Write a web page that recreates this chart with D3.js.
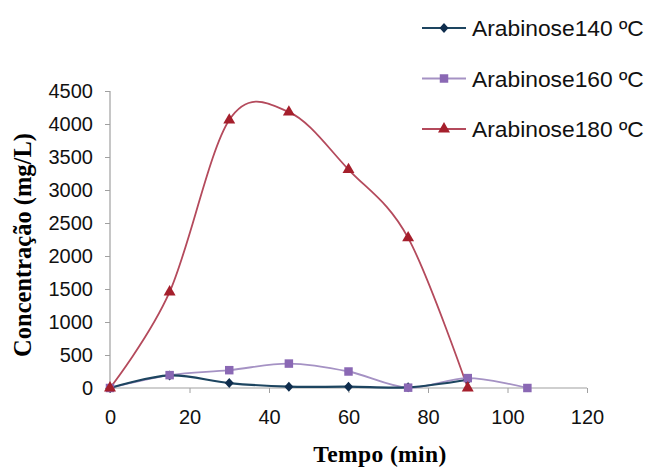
<!DOCTYPE html>
<html>
<head>
<meta charset="utf-8">
<script src="https://cdn.jsdelivr.net/npm/d3@7"></script>
<style>
  body { margin: 0; background: #fff; }
  svg { display: block; }
</style>
</head>
<body>
<div id="chart"></div>
<script>
// tempo (min) and concentração (mg/L)
var tempo140 = [0, 15, 30, 45, 60, 75, 90]
var arab140 = [0, 190, 75, 20, 20, 10, 125]
var tempo160 = [0, 15, 30, 45, 60, 75, 90, 105]
var arab160 = [0, 195, 270, 370, 250, 5, 150, 0]
var tempo180 = [0, 15, 30, 45, 60, 75, 90]
var arab180 = [0, 1455, 4060, 4180, 3310, 2275, 0]
var xTicks = [0, 20, 40, 60, 80, 100, 120]
var yTicks = [0, 500, 1000, 1500, 2000, 2500, 3000, 3500, 4000, 4500]
var seriesNames = ["Arabinose140 ºC", "Arabinose160 ºC", "Arabinose180 ºC"]

var width = 670, height = 469
var margin = {top: 91, right: 83, bottom: 81, left: 110}
var w = width - margin.left - margin.right,
    h = height - margin.top - margin.bottom

var svg = d3.select("#chart").append("svg")
    .attr("width", width)
    .attr("height", height)

var g = svg.append("g")
    .attr("transform", "translate(" + margin.left + "," + margin.top + ")")

var x = d3.scaleLinear().domain([0, 120]).range([0, w])
var y = d3.scaleLinear().domain([0, 4500]).range([h, 0])

// excel style diamond (square turned 45 deg)
var diamond = {
    draw: function(ctx, size) {
        var r = Math.sqrt(size) / 2 * 1.25
        ctx.moveTo(0, -r)
        ctx.lineTo(r * 0.9, 0)
        ctx.lineTo(0, r)
        ctx.lineTo(-r * 0.9, 0)
        ctx.closePath()
    }
}

var series = [
    {name: seriesNames[0], t: tempo140, v: arab140, line: "#1d4560", fill: "#0f2d4d", shape: diamond, size: 64},
    {name: seriesNames[1], t: tempo160, v: arab160, line: "#a592c4", fill: "#8a68b4", shape: d3.symbolSquare, size: 72},
    {name: seriesNames[2], t: tempo180, v: arab180, line: "#b44a5c", fill: "#a51f2c", shape: d3.symbolTriangle, size: 62}
]

// axes
var yAxis = g.append("g")
    .call(d3.axisLeft(y).tickValues(yTicks).tickSize(5).tickPadding(12).tickFormat(d3.format("d")))
var xAxis = g.append("g")
    .attr("transform", "translate(0," + h + ")")
    .call(d3.axisBottom(x).tickValues(xTicks).tickSize(5).tickPadding(17))

g.selectAll(".domain").attr("stroke", "#a0a0a0").attr("stroke-width", 1.2)
g.selectAll(".tick line").attr("stroke", "#a0a0a0")
g.selectAll(".tick text")
    .attr("font-family", "Liberation Sans, Arial, sans-serif")
    .attr("font-size", 20)
    .attr("fill", "#111")
// axis lines without outer ticks
yAxis.select(".domain").attr("d", "M0," + h + "V0")
xAxis.select(".domain").attr("d", "M0,0H" + w)

// lines, 180 first so the others sit on top
var curve = d3.curveCatmullRom.alpha(0)
series.slice().reverse().forEach(function(s) {
    var data = s.t.map(function(t, i) { return {t: t, v: s.v[i]} })
    g.append("path")
        .datum(data)
        .attr("fill", "none")
        .attr("stroke", s.line)
        .attr("stroke-width", s.name == seriesNames[0] ? 2.2 : 1.8)
        .attr("d", d3.line().curve(curve)
            .x(function(d) { return x(d.t) })
            .y(function(d) { return y(d.v) }))
    s.data = data
})
series.forEach(function(s) {
    g.append("g")
        .selectAll("path")
        .data(s.data)
        .enter()
        .append("path")
        .attr("transform", function(d) { return "translate(" + x(d.t) + "," + y(d.v) + ")" })
        .attr("d", d3.symbol().type(s.shape).size(s.size))
        .attr("fill", s.fill)
})

// axis titles
svg.append("text")
    .attr("text-anchor", "middle")
    .attr("transform", "translate(31," + 245 + ") rotate(-90)")
    .attr("font-family", "Liberation Serif, Times New Roman, serif")
    .attr("font-weight", "bold")
    .attr("font-size", 24.5)
    .text("Concentração (mg/L)")

svg.append("text")
    .attr("text-anchor", "middle")
    .attr("x", 380)
    .attr("y", 462)
    .attr("font-family", "Liberation Serif, Times New Roman, serif")
    .attr("font-weight", "bold")
    .attr("font-size", 23.5)
    .attr("letter-spacing", 0.4)
    .text("Tempo (min)")

// legend
var legend = svg.append("g")
series.forEach(function(s, i) {
    var ly = 28 + i * 50.5
    legend.append("line")
        .attr("x1", 422).attr("x2", 466)
        .attr("y1", ly).attr("y2", ly)
        .attr("stroke", s.line)
        .attr("stroke-width", 1.8)
    legend.append("path")
        .attr("transform", "translate(444," + ly + ")")
        .attr("d", d3.symbol().type(s.shape).size(s.size))
        .attr("fill", s.fill)
    legend.append("text")
        .attr("x", 472)
        .attr("y", ly + 8)
        .attr("font-family", "Liberation Sans, Arial, sans-serif")
        .attr("font-size", 22.8)
        .attr("fill", "#111")
        .text(s.name)
})
</script>
</body>
</html>
